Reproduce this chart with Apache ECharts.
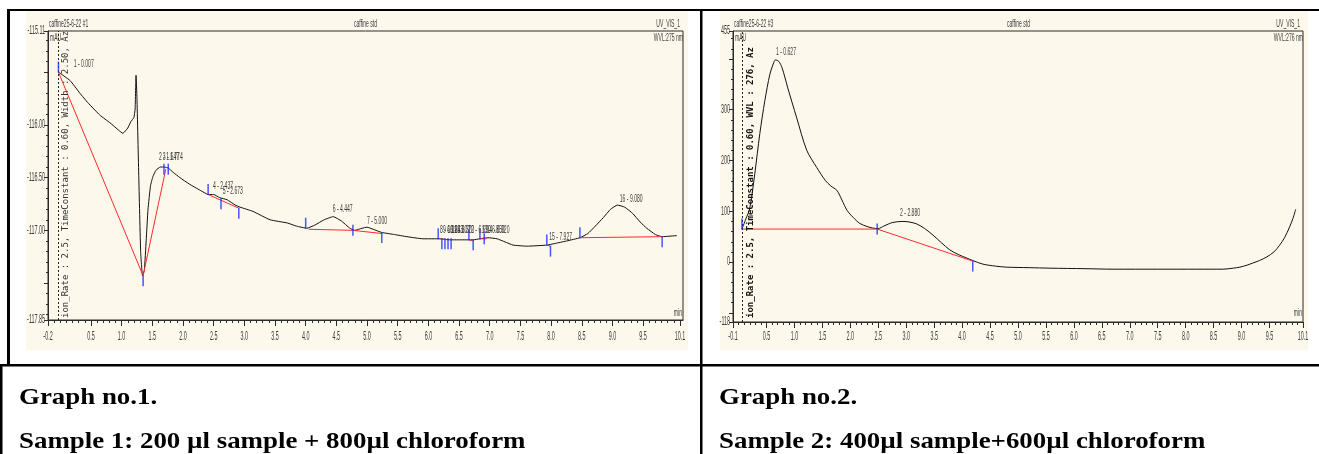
<!DOCTYPE html>
<html><head><meta charset="utf-8">
<script src="https://cdn.jsdelivr.net/npm/echarts@6/dist/echarts.min.js"></script>
<style>html,body{margin:0;padding:0;background:#fff;}#c{width:1319px;height:454px;}</style>
</head><body><div id="c"></div>
<script>
// ---------------- DATA : Graph 1 ----------------
const c1Inject = -0.03;
const c1Curve = [[-0.03,-115.50],[0.16,-115.58],[0.32,-115.70],[0.45,-115.79],[0.65,-115.91],[0.81,-115.98],[0.95,-116.05],[1.02,-116.08],[1.10,-116.03],[1.15,-115.97],[1.20,-115.93],[1.22,-115.85],[1.235,-115.53],[1.25,-115.75],[1.28,-116.50],[1.31,-117.20],[1.34,-117.43],[1.37,-117.38],[1.40,-117.10],[1.43,-116.80],[1.47,-116.58],[1.51,-116.49],[1.56,-116.43],[1.63,-116.40],[1.70,-116.40],[1.76,-116.41],[1.84,-116.45],[1.95,-116.50],[2.10,-116.56],[2.28,-116.62],[2.41,-116.66],[2.50,-116.66],[2.60,-116.69],[2.72,-116.71],[2.85,-116.76],[2.93,-116.78],[3.14,-116.82],[3.42,-116.90],[3.70,-116.93],[3.85,-116.96],[4.02,-116.98],[4.15,-116.95],[4.30,-116.90],[4.45,-116.87],[4.58,-116.91],[4.72,-116.98],[4.80,-117.00],[4.92,-116.98],[5.00,-116.97],[5.10,-116.99],[5.24,-117.02],[5.45,-117.04],[5.65,-117.06],[5.91,-117.08],[6.19,-117.08],[6.35,-117.09],[6.51,-117.09],[6.73,-117.09],[6.84,-117.08],[6.97,-117.07],[7.12,-117.08],[7.25,-117.11],[7.38,-117.14],[7.61,-117.15],[7.93,-117.14],[8.10,-117.12],[8.26,-117.10],[8.47,-117.07],[8.60,-117.03],[8.72,-116.96],[8.85,-116.88],[8.97,-116.80],[9.08,-116.76],[9.20,-116.78],[9.33,-116.84],[9.45,-116.92],[9.56,-116.98],[9.70,-117.04],[9.81,-117.06],[10.05,-117.05]];
const c1Baselines = [
  [[-0.03,-115.50],[1.35,-117.43],[1.72,-116.42]],
  [[2.41,-116.66],[2.91,-116.79]],
  [[4.05,-116.99],[4.77,-117.00],[5.24,-117.03]],
  [[6.19,-117.08],[6.30,-117.09]],
  [[6.66,-117.09],[6.73,-117.10]],
  [[6.84,-117.08],[6.95,-117.08]],
  [[7.93,-117.14],[7.99,-117.15]],
  [[8.47,-117.07],[9.81,-117.06]]
];
// [time, value, direction: 1 up, 0 centred, -1 down]
const c1Marks = [[-0.03,-115.50,1],[1.35,-117.43,-1],[1.69,-116.42,0],[1.76,-116.42,0],[2.41,-116.66,1],[2.62,-116.70,-1],[2.91,-116.79,-1],[4.00,-116.98,1],[4.77,-117.00,0],[5.24,-117.02,-1],[6.16,-117.08,1],[6.22,-117.08,-1],[6.27,-117.08,-1],[6.32,-117.08,-1],[6.37,-117.08,-1],[6.66,-117.09,1],[6.73,-117.09,-1],[6.84,-117.08,1],[6.91,-117.08,0],[7.93,-117.14,1],[7.99,-117.15,-1],[8.47,-117.07,1],[9.81,-117.06,-1]];
const c1PeakLabels = [["1 - 0.007",0.22,-115.42],["2 - 1.647",1.61,-116.30],["3 - 1.774",1.67,-116.30],["4 - 2.437",2.49,-116.58],["5 - 2.673",2.65,-116.63],["6 - 4.447",4.44,-116.80],["7 - 5.000",5.00,-116.91],["8 - 6.193",6.19,-117.00],["9 - 6.243",6.24,-117.00],["10 - 6.307",6.31,-117.00],["11 - 6.370",6.38,-117.00],["12 - 6.690",6.65,-117.00],["13 - 6.850",6.87,-117.00],["14 - 6.920",6.95,-117.00],["15 - 7.927",7.97,-117.06],["16 - 9.080",9.12,-116.70]];
const c1XLabels = [-0.2,0.5,1.0,1.5,2.0,2.5,3.0,3.5,4.0,4.5,5.0,5.5,6.0,6.5,7.0,7.5,8.0,8.5,9.0,9.5,10.1];
const c1YLabels = [-115.11,-116.00,-116.50,-117.00,-117.85];
const c1YMajor = [-115.11,-115.5,-116.0,-116.5,-117.0,-117.5,-117.85];
const c1Range = {xmin:-0.2,xmax:10.15,ymin:-117.85,ymax:-115.11};

// ---------------- DATA : Graph 2 ----------------
const c2Inject = 0.06;
const c2Curve = [[0.06,65],[0.13,85],[0.20,106],[0.29,174],[0.38,253],[0.47,318],[0.56,370],[0.62,390],[0.66,398],[0.72,395],[0.78,382],[0.88,343],[1.04,284],[1.22,220],[1.40,186],[1.55,161],[1.65,150],[1.76,141],[1.85,122],[1.94,102],[2.05,88],[2.17,76],[2.30,70],[2.40,67],[2.50,66],[2.60,71],[2.76,78],[2.94,80],[3.05,79],[3.19,75],[3.33,66],[3.48,53],[3.63,38],[3.78,24],[3.93,15],[4.08,8],[4.19,3],[4.37,-4],[4.60,-8],[4.80,-10],[5.20,-11],[5.57,-12],[6.20,-13],[6.70,-14],[7.50,-14],[8.20,-14],[8.67,-14],[8.85,-12],[8.97,-10],[9.10,-6],[9.20,-2],[9.32,3],[9.45,10],[9.58,20],[9.68,33],[9.77,48],[9.86,69],[9.92,86],[9.97,104]];
const c2Baselines = [[[0.06,65],[2.48,65],[4.19,2]]];
const c2Marks = [[0.06,65,1],[2.48,65,0],[4.19,2,-1]];
const c2PeakLabels = [["1 - 0.627",0.67,414],["2 - 2.880",2.89,97]];
const c2XLabels = [-0.1,0.5,1.0,1.5,2.0,2.5,3.0,3.5,4.0,4.5,5.0,5.5,6.0,6.5,7.0,7.5,8.0,8.5,9.0,9.5,10.1];
const c2YLabels = [-118,0,100,200,300,455];
const c2YMajor = [-118,-100,0,100,200,300,400,455];
const c2Range = {xmin:-0.1,xmax:10.1,ymin:-118,ymax:455};

// texts
const c1Header = ["caffine25-6-22 #1","caffine std","UV_VIS_1","WVL:275 nm"];
const c2Header = ["caffine25-6-22 #3","caffine std","UV_VIS_1","WVL:276 nm"];
const sideText1 = "ion_Rate : 2.5, TimeConstant : 0.60, Width : 2.50, Az";
const sideText2 = "ion_Rate : 2.5, TimeConstant : 0.60, WVL : 276, Az";
const captions1 = ["Graph no.1.","Sample 1: 200 µl sample + 800µl chloroform"];
const captions2 = ["Graph no.2.","Sample 2: 400µl sample+600µl chloroform"];

// ---------------- helpers ----------------
function range(a,b,step){const r=[];const n=Math.round((b-a)/step);for(let i=0;i<=n;i++)r.push(+(a+i*step).toFixed(4));return r;}
const c1XMinor = range(-0.2,10.1,0.1), c1YMinor = range(-117.8,-115.2,0.1);
const c2XMinor = range(-0.1,10.1,0.1), c2YMinor = range(-100,440,20);
const INK='#2a2a2a', RED='#ff2a2a', BLUE='#1b2cff', CREAM='#fdf8ec';

function xAx(grid,r,ticks,len,line){return {type:'value',gridIndex:grid,min:r.xmin,max:r.xmax,position:'bottom',
  axisLine:{show:line,onZero:false,lineStyle:{color:INK,width:1}},axisTick:{show:true,customValues:ticks,length:len,lineStyle:{color:INK,width:1}},
  axisLabel:{show:false},splitLine:{show:false}};}
function yAx(grid,r,ticks,len,line){return {type:'value',gridIndex:grid,min:r.ymin,max:r.ymax,position:'left',
  axisLine:{show:line,onZero:false,lineStyle:{color:INK,width:1}},axisTick:{show:true,customValues:ticks,length:len,lineStyle:{color:INK,width:1}},
  axisLabel:{show:false},splitLine:{show:false}};}

function seriesFor(idx,curve,baselines,marks,inject,smooth){
  const s=[];
  s.push({type:'line',xAxisIndex:idx,yAxisIndex:idx,data:curve,showSymbol:false,symbol:'none',z:3,smooth:smooth,
    lineStyle:{color:'#111',width:1},
    markLine:{silent:true,symbol:['none','none'],label:{show:false},animation:false,
      lineStyle:{type:[2,2],color:'#222',width:1},data:[{xAxis:inject}]}});
  baselines.forEach(b=>s.push({type:'line',xAxisIndex:idx,yAxisIndex:idx,data:b,showSymbol:false,symbol:'none',z:4,lineStyle:{color:RED,width:1}}));
  s.push({type:'scatter',xAxisIndex:idx,yAxisIndex:idx,z:5,symbol:'rect',symbolSize:[1.5,11],itemStyle:{color:BLUE},
    data:marks.map(m=>({value:[m[0],m[1]],symbolOffset:[0,-5*m[2]]}))});
  return s;
}

const chart = echarts.init(document.getElementById('c'),null,{renderer:'canvas'});
const option = {
  animation:false,
  backgroundColor:'#ffffff',
  grid:[
    {left:48,top:31,width:635,height:289,show:true,borderColor:INK,borderWidth:1,containLabel:false,outerBoundsMode:'none'},
    {left:733,top:31,width:570,height:291,show:true,borderColor:INK,borderWidth:1,containLabel:false,outerBoundsMode:'none'}
  ],
  xAxis:[xAx(0,c1Range,c1XMinor,3,true),xAx(1,c2Range,c2XMinor,3,true),xAx(0,c1Range,c1XLabels,6,false),xAx(1,c2Range,c2XLabels,6,false)],
  yAxis:[yAx(0,c1Range,c1YMinor,2,true),yAx(1,c2Range,c2YMinor,2,true),yAx(0,c1Range,c1YMajor,4,false),yAx(1,c2Range,c2YMajor,4,false)],
  series:[].concat(seriesFor(0,c1Curve,c1Baselines,c1Marks,c1Inject,0.12),seriesFor(1,c2Curve,c2Baselines,c2Marks,c2Inject,0.3))
};
chart.setOption(option);

// ---------------- graphics ----------------
const SANS='"Liberation Sans", Arial, sans-serif';
function T(x,y,text,o){o=o||{};return {type:'text',x:x,y:y,z:o.z||50,scaleX:o.sx==null?0.46:o.sx,rotation:o.rot||0,silent:true,
  style:{text:text,font:(o.weight||'normal')+' '+(o.size||11)+'px '+(o.family||SANS),fill:o.fill||'#3c3c3c',
    align:o.align||'left',textAlign:o.align||'left',verticalAlign:o.va||'middle',textVerticalAlign:o.va||'middle'}};}
function R(x,y,w,h,fill,z){return {type:'rect',silent:true,z:z==null?60:z,shape:{x:x,y:y,width:w,height:h},style:{fill:fill}};}

const g=[];
// backgrounds
g.push(R(26,11,662,339,CREAM,-10));
g.push(R(720,11,588,339,CREAM,-10));
// table lines
g.push(R(7,9,1312,2,'#000'));
g.push(R(7,9,3,356,'#000'));
g.push(R(0,364,1319,2.5,'#000'));
g.push(R(0,364,2.5,90,'#000'));
g.push(R(700,9,2.5,445,'#000'));

function px(axis,v){return chart.convertToPixel(axis,v);}
function chartTexts(idx,labelsX,labelsY,yDec,peaks,header,side,sideBold,frame){
  const xa={xAxisIndex:idx}, ya={yAxisIndex:idx};
  labelsX.forEach(v=>g.push(T(px(xa,v),337,v.toFixed(1),{align:'center',size:12,sx:0.45})));
  labelsY.forEach(v=>g.push(T(frame.left-3,px(ya,v),v.toFixed(yDec),{align:'right',size:12,sx:0.45})));
  peaks.forEach(p=>g.push(T(px(xa,p[1]),px(ya,p[2]),p[0],{size:11})));
  g.push(T(frame.left+1,24,header[0],{size:11}));
  g.push(T(frame.mid,24,header[1],{size:11}));
  g.push(T(frame.right-3,24,header[2],{size:11,align:'right'}));
  g.push(T(frame.right,38,header[3],{size:11,align:'right'}));
  g.push(T(frame.left+2,38,'mAU',{size:11}));
  g.push(T(frame.right-1,313,'min',{size:11,align:'right'}));
  g.push(T(frame.side,318,side,{rot:Math.PI/2,sx:1,size:9,family:'"DejaVu Sans Mono", monospace',weight:sideBold?'bold':'normal',fill:sideBold?'#111':'#333'}));
}
chartTexts(0,c1XLabels,c1YLabels,2,c1PeakLabels,c1Header,sideText1,false,{left:48,right:683,mid:354,side:66});
chartTexts(1,c2XLabels,c2YLabels,0,c2PeakLabels,c2Header,sideText2,true,{left:733,right:1303,mid:1007,side:751});

// captions
const CAP='bold 24px "Liberation Serif", "Times New Roman", serif';
function cap(x,y,t){return {type:'text',x:x,y:y,z:60,scaleX:1.12,silent:true,style:{text:t,font:CAP,fill:'#000',align:'left',verticalAlign:'alphabetic',textVerticalAlign:'alphabetic'}};}
g.push(cap(19,386,captions1[0]));
g.push(cap(19,430,captions1[1]));
g.push(cap(719,386,captions2[0]));
g.push(cap(719,430,captions2[1]));

chart.setOption({graphic:{elements:g}});
</script></body></html>
